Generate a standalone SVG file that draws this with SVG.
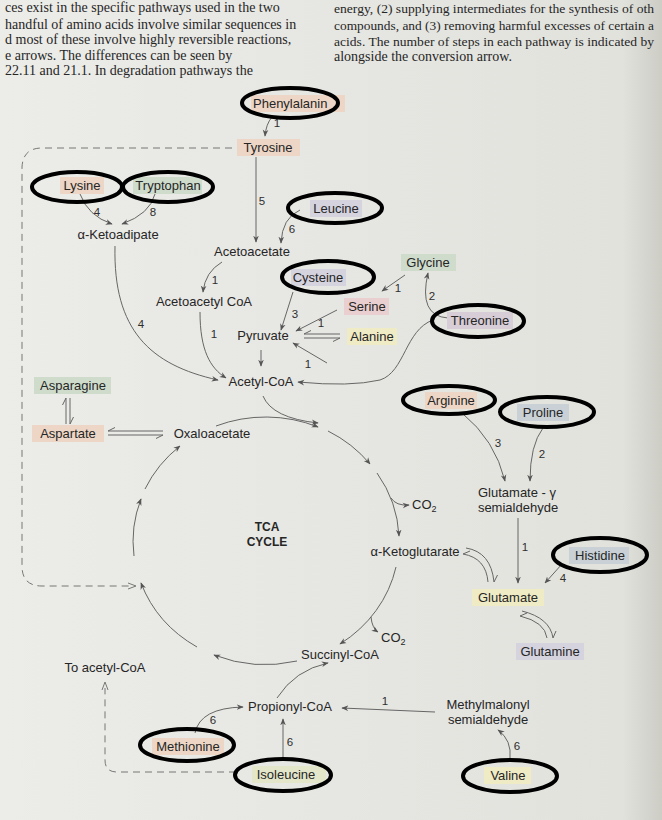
<svg xmlns="http://www.w3.org/2000/svg" width="662" height="820" viewBox="0 0 662 820">
<defs>
<linearGradient id="page" x1="0" y1="0" x2="1" y2="0">
<stop offset="0" stop-color="#ecece8"/>
<stop offset="0.5" stop-color="#e6e6e2"/>
<stop offset="0.94" stop-color="#e2e2dd"/>
<stop offset="1" stop-color="#cdcdc6"/>
</linearGradient>
<marker id="ah" viewBox="0 0 10 10" refX="9" refY="5" markerWidth="7" markerHeight="7" orient="auto" markerUnits="userSpaceOnUse">
<path d="M0,1 L10,5 L0,9 L3,5 z" fill="#555"/>
</marker>
<style>
.bt{font-family:"Liberation Serif","Times New Roman",serif;font-size:14px;fill:#262626}
.btr{font-family:"Liberation Serif","Times New Roman",serif;font-size:13.5px;fill:#262626}
.n{font-family:"Liberation Sans",Arial,sans-serif;font-size:13px;fill:#262626;text-anchor:middle}
.s{font-family:"Liberation Sans",Arial,sans-serif;font-size:13px;fill:#262626}
.l{font-family:"Liberation Sans",Arial,sans-serif;font-size:11.5px;fill:#2e2e2e;text-anchor:middle}
.b{font-family:"Liberation Sans",Arial,sans-serif;font-size:12px;font-weight:bold;fill:#262626;text-anchor:middle}
.c{fill:none;stroke:#666;stroke-width:1}
.a{fill:none;stroke:#666;stroke-width:1;marker-end:url(#ah)}
.d{fill:none;stroke:#777;stroke-width:1;stroke-dasharray:7 5}
.ring{fill:none;stroke:#000;stroke-width:4}
.peach{fill:#edd6c5}
.green{fill:#cfdccc}
.lav{fill:#d4d3de}
.pink{fill:#e9cfcf}
.yel{fill:#efebc5}
.mauve{fill:#d7cdd6}
.blue{fill:#c9d1d6}
</style>
</defs>
<rect width="662" height="820" fill="url(#page)"/>

<g id="page-text">
<text class="bt" x="5" y="12">ces exist in the specific pathways used in the two</text>
<text class="bt" x="5" y="29">handful of amino acids involve similar sequences in</text>
<text class="bt" x="5" y="44">d most of these involve highly reversible reactions,</text>
<text class="bt" x="5" y="60">e arrows. The differences can be seen by</text>
<text class="bt" x="5" y="75">22.11 and 21.1. In degradation pathways the</text>
<text class="btr" x="334" y="13" textLength="320" lengthAdjust="spacingAndGlyphs">energy, (2) supplying intermediates for the synthesis of oth</text>
<text class="btr" x="334" y="30" textLength="320" lengthAdjust="spacingAndGlyphs">compounds, and (3) removing harmful excesses of certain a</text>
<text class="btr" x="334" y="46" textLength="320" lengthAdjust="spacingAndGlyphs">acids. The number of steps in each pathway is indicated by</text>
<text class="bt" x="334" y="61">alongside the conversion arrow.</text>
</g>

<g id="connectors">
<path class="a" d="M272,117 Q266,124 265,136"/>
<path class="d" d="M232,148 L42,148 Q23,148 22,167 L22,566 Q22,586 42,586 L132,586"/>
<path d="M128,583 L136,586 L128,589" fill="none" stroke="#777" stroke-width="1"/>
<path class="a" d="M80,194 Q88,216 112,224"/>
<path class="a" d="M155,194 Q150,214 122,224"/>
<path class="a" d="M115,246 C113,330 150,365 218,380"/>
<path class="a" d="M256,157 L256,242"/>
<path class="a" d="M300,210 Q282,218 281,243"/>
<path class="a" d="M222,262 Q205,272 203,292"/>
<path class="a" d="M200,312 C200,350 210,368 226,378"/>
<path class="a" d="M293,292 L281,330"/>
<path class="a" d="M405,275 L382,291"/>
<path class="a" d="M337,310 L296,331"/>
<path class="a" d="M327,363 L293,343"/>
<path class="a" d="M448,318 Q418,316 428,273"/>
<path class="a" d="M433,320 C405,330 405,372 380,380 Q350,387 298,382"/>
<path class="a" d="M261,350 L261,366"/>
<path class="c" d="M304,334 L340,334 M304,334 L311,330.5 M304,338 L340,338 M340,338 L333,341.5"/>
<path class="c" d="M108,431 L163,431 M108,431 L115,427.5 M108,435 L163,435 M163,435 L156,438.5"/>
<path class="c" d="M66,398 L66,424 M66,398 L62.5,405 M70,398 L70,424 M70,424 L73.5,417"/>

<path class="a" d="M263,396 Q272,418 318,423"/>
<path class="a" d="M216,426 A133,124 0 0 1 318,427"/>
<path class="a" d="M328,431 A133,124 0 0 1 370,464"/>
<path class="a" d="M377,473 A133,124 0 0 1 399,536"/>
<path class="a" d="M391,498 Q396,506 409,505"/>
<path class="a" d="M396,567 A133,124 0 0 1 340,644"/>
<path class="a" d="M371,617 Q372,628 378,632"/>
<path class="a" d="M297,661 A133,124 0 0 1 214,655"/>
<path class="a" d="M197,647 A133,124 0 0 1 141,583"/>
<path class="a" d="M134,556 A133,124 0 0 1 141,499"/>
<path class="a" d="M145,489 A133,124 0 0 1 180,446"/>

<path class="a" d="M462,413 Q495,440 505,481"/>
<path class="a" d="M543,428 Q530,445 530,481"/>
<path class="a" d="M518,518 L518,583"/>
<path class="a" d="M562,564 L545,583"/>
<path class="c" d="M466,548 Q491,552 494,582 M494,582 L497.5,575 M463,554 Q486,558 488,582 M463,554 L470,551"/>
<path class="c" d="M522,611 Q550,618 553,638 M553,638 L556,631 M520,616 Q545,622 547,638 M520,616 L527,613"/>

<path class="d" d="M236,772 L117,772 Q105,772 105,760 L105,688"/>
<path d="M102,690 L105,682 L108,690" fill="none" stroke="#777" stroke-width="1"/>
<path class="a" d="M195,733 Q200,708 243,707"/>
<path class="a" d="M283,760 L283,719"/>
<path class="a" d="M277,698 Q295,670 328,663"/>
<path class="a" d="M435,712 L342,708"/>
<path class="a" d="M510,759 Q512,740 498,730"/>
</g>

<g id="step-labels">
<text class="l" x="277" y="127">1</text>
<text class="l" x="97" y="216">4</text>
<text class="l" x="153" y="216">8</text>
<text class="l" x="141" y="328">4</text>
<text class="l" x="262" y="205">5</text>
<text class="l" x="292" y="233">6</text>
<text class="l" x="215" y="284">1</text>
<text class="l" x="214" y="338">1</text>
<text class="l" x="295" y="318">3</text>
<text class="l" x="398" y="292">1</text>
<text class="l" x="321" y="327">1</text>
<text class="l" x="308" y="368">1</text>
<text class="l" x="432" y="300">2</text>
<text class="l" x="498" y="447">3</text>
<text class="l" x="542" y="458">2</text>
<text class="l" x="525" y="551">1</text>
<text class="l" x="563" y="582">4</text>
<text class="l" x="213" y="724">6</text>
<text class="l" x="290" y="746">6</text>
<text class="l" x="385" y="705">1</text>
<text class="l" x="517" y="750">6</text>
</g>

<g id="phenylalanine"><rect class="peach" x="251" y="95" width="94" height="17"/><text class="s" x="253" y="108">Phenylalanin</text><ellipse class="ring" cx="290" cy="103" rx="48" ry="15"/></g>
<g id="tyrosine"><rect class="peach" x="237" y="139" width="63" height="17"/><text class="n" x="268" y="152">Tyrosine</text></g>
<g id="lysine"><rect class="peach" x="60" y="177" width="44" height="17"/><text class="n" x="82" y="190">Lysine</text><ellipse class="ring" cx="77" cy="187" rx="45" ry="15"/></g>
<g id="tryptophan"><rect class="green" x="133" y="177" width="69" height="17"/><text class="n" x="168" y="190">Tryptophan</text><ellipse class="ring" cx="168" cy="187" rx="45" ry="15"/></g>
<g id="a-ketoadipate"><text class="n" x="118" y="239">α-Ketoadipate</text></g>
<g id="leucine"><rect class="lav" x="310" y="200" width="52" height="17"/><text class="n" x="336" y="213">Leucine</text><ellipse class="ring" cx="335" cy="208" rx="47" ry="15"/></g>
<g id="acetoacetate"><text class="n" x="252" y="256">Acetoacetate</text></g>
<g id="acetoacetyl-coa"><text class="n" x="204" y="306">Acetoacetyl CoA</text></g>
<g id="cysteine"><rect class="lav" x="291" y="269" width="55" height="17"/><text class="n" x="318" y="282">Cysteine</text><ellipse class="ring" cx="328" cy="277" rx="46" ry="16"/></g>
<g id="glycine"><rect class="green" x="401" y="254" width="55" height="17"/><text class="n" x="428" y="267">Glycine</text></g>
<g id="serine"><rect class="pink" x="344" y="298" width="45" height="17"/><text class="n" x="367" y="311">Serine</text></g>
<g id="pyruvate"><text class="n" x="263" y="340">Pyruvate</text></g>
<g id="alanine"><rect class="yel" x="347" y="328" width="50" height="17"/><text class="n" x="372" y="341">Alanine</text></g>
<g id="threonine"><rect class="mauve" x="447" y="312" width="66" height="17"/><text class="n" x="480" y="325">Threonine</text><ellipse class="ring" cx="478" cy="321" rx="46" ry="16"/></g>
<g id="acetyl-coa"><text class="n" x="261" y="386">Acetyl-CoA</text></g>
<g id="asparagine"><rect class="green" x="34" y="377" width="77" height="17"/><text class="n" x="73" y="390">Asparagine</text></g>
<g id="aspartate"><rect class="peach" x="32" y="425" width="72" height="17"/><text class="n" x="68" y="438">Aspartate</text></g>
<g id="oxaloacetate"><text class="n" x="212" y="438">Oxaloacetate</text></g>
<g id="tca-cycle"><text class="b" x="267" y="531">TCA</text><text class="b" x="267" y="546">CYCLE</text></g>
<g id="co2-a"><text class="s" x="412" y="509">CO<tspan font-size="9" dy="3">2</tspan></text></g>
<g id="a-ketoglutarate"><text class="n" x="415" y="556">α-Ketoglutarate</text></g>
<g id="co2-b"><text class="s" x="381" y="642">CO<tspan font-size="9" dy="3">2</tspan></text></g>
<g id="succinyl-coa"><text class="n" x="340" y="659">Succinyl-CoA</text></g>
<g id="arginine"><rect class="peach" x="425" y="392" width="52" height="17"/><text class="n" x="451" y="405">Arginine</text><ellipse class="ring" cx="449" cy="400" rx="46" ry="14"/></g>
<g id="proline"><rect class="blue" x="517" y="404" width="52" height="17"/><text class="n" x="543" y="417">Proline</text><ellipse class="ring" cx="547" cy="412" rx="47" ry="15"/></g>
<g id="glutamate-semialdehyde"><text class="n" x="517" y="497">Glutamate - γ</text><text class="n" x="518" y="512">semialdehyde</text></g>
<g id="histidine"><rect class="blue" x="569" y="547" width="60" height="17"/><text class="n" x="600" y="560">Histidine</text><ellipse class="ring" cx="600" cy="555" rx="47" ry="17"/></g>
<g id="glutamate"><rect class="yel" x="472" y="589" width="72" height="17"/><text class="n" x="508" y="602">Glutamate</text></g>
<g id="glutamine"><rect class="lav" x="516" y="643" width="68" height="17"/><text class="n" x="550" y="656">Glutamine</text></g>
<g id="to-acetyl-coa"><text class="n" x="105" y="672">To acetyl-CoA</text></g>
<g id="propionyl-coa"><text class="n" x="290" y="711">Propionyl-CoA</text></g>
<g id="methylmalonyl-semialdehyde"><text class="n" x="488" y="709">Methylmalonyl</text><text class="n" x="488" y="724">semialdehyde</text></g>
<g id="methionine"><rect class="peach" x="152" y="738" width="72" height="17"/><text class="n" x="188" y="751">Methionine</text><ellipse class="ring" cx="187" cy="745" rx="47" ry="16"/></g>
<g id="isoleucine"><rect fill="#e4e6c9" x="252" y="766" width="74" height="17"/><text class="n" x="286" y="779">Isoleucine</text><ellipse class="ring" cx="283" cy="775" rx="48" ry="16"/></g>
<g id="valine"><rect class="yel" x="484" y="767" width="47" height="17"/><text class="n" x="508" y="780">Valine</text><ellipse class="ring" cx="510" cy="776" rx="47" ry="16"/></g>
</svg>
